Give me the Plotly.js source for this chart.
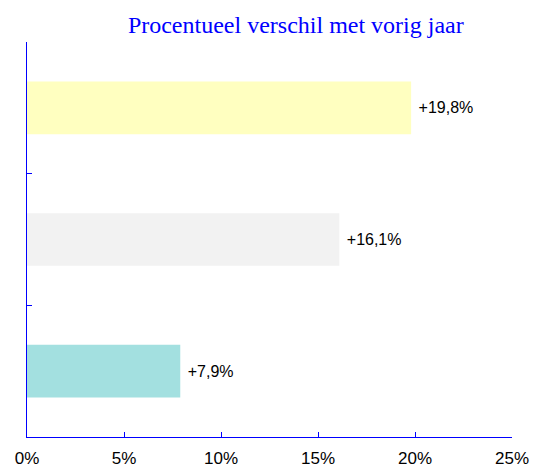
<!DOCTYPE html>
<html>
<head>
<meta charset="utf-8">
<script src="https://cdn.plot.ly/plotly-3.0.1.min.js"></script>
<style>html,body{margin:0;padding:0;background:#fff;}#chart{width:533px;height:471px;}</style>
</head>
<body>
<div id="chart"></div>
<script>
// Data (bottom to top)
var categories = ["cat1", "cat2", "cat3"];
var values = [7.9, 16.1, 19.8];
var barColors = ["#A3E0E0", "#F2F2F2", "#FFFFC0"];
var xTickVals = [0, 5, 10, 15, 20, 25];
var xTickText = ["0%", "5%", "10%", "15%", "20%", "25%"];

var labels = values.map(function (v) { return "\u00a0+" + v.toFixed(1).replace(".", ",") + "%"; });

var trace = {
  type: "bar",
  orientation: "h",
  y: categories,
  x: values,
  width: 0.4,
  marker: { color: barColors, line: { width: 0 } },
  text: labels,
  textposition: "outside",
  textfont: { family: "Liberation Sans, Arial, sans-serif", size: 16, color: "#000" },
  cliponaxis: false,
  hoverinfo: "none"
};

var layout = {
  width: 533, height: 471,
  margin: { l: 27, r: 21, t: 42, b: 34 },
  paper_bgcolor: "#fff", plot_bgcolor: "#fff",
  showlegend: false,
  title: {
    text: "Procentueel verschil met vorig jaar",
    font: { family: "Liberation Serif, Times New Roman, serif", size: 24, color: "#0000FF" },
    x: 0.555, xanchor: "center", y: 0.948, yanchor: "middle"
  },
  xaxis: {
    range: [0, 25], tickmode: "array", tickvals: xTickVals, ticktext: xTickText,
    showgrid: false, zeroline: false,
    showline: true, linecolor: "#0000FF", linewidth: 1,
    ticks: "inside", ticklen: 5, tickcolor: "#0000FF",
    ticklabelstandoff: 6,
    tickfont: { family: "Liberation Sans, Arial, sans-serif", size: 17, color: "#000" },
    fixedrange: true
  },
  yaxis: {
    type: "category", range: [-0.5, 2.5],
    showticklabels: false, showgrid: false, zeroline: false,
    showline: true, linecolor: "#0000FF", linewidth: 1,
    ticks: "inside", tickson: "boundaries", ticklen: 5, tickcolor: "#0000FF",
    fixedrange: true
  }
};

Plotly.newPlot("chart", [trace], layout, { displayModeBar: false, staticPlot: true });
</script>
</body>
</html>
